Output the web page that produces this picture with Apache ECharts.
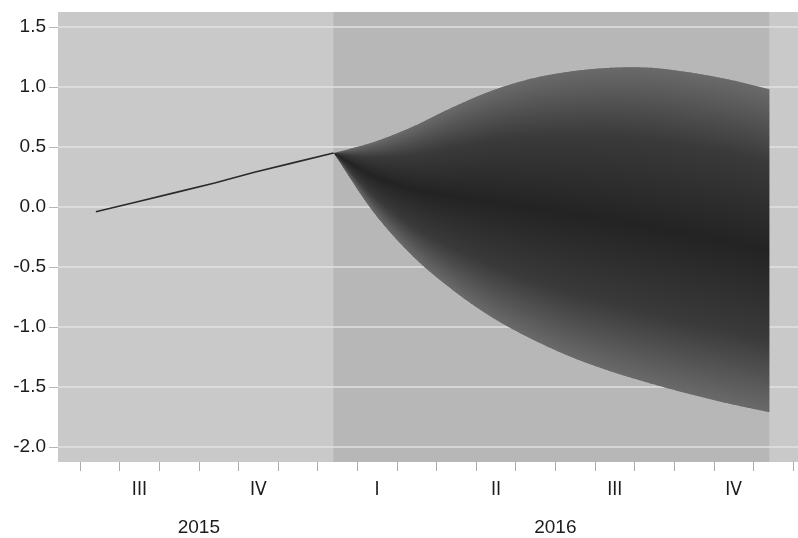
<!DOCTYPE html>
<html>
<head>
<meta charset="utf-8">
<script src="https://cdn.jsdelivr.net/npm/echarts@6/dist/echarts.min.js"></script>
<style>
  html, body { margin: 0; padding: 0; background: #ffffff; }
  #chart { width: 798px; height: 538px; }
</style>
</head>
<body>
<div id="chart"></div>
<script>
// Monthly observations, July 2015 - December 2016
const months = [
  '2015-07', '2015-08', '2015-09', '2015-10', '2015-11', '2015-12',
  '2016-01', '2016-02', '2016-03', '2016-04', '2016-05', '2016-06',
  '2016-07', '2016-08', '2016-09', '2016-10', '2016-11', '2016-12'
];

// Actual values up to the forecast origin (Jul 2015 - Jan 2016)
const actual = [-0.04, 0.04, 0.12, 0.20, 0.29, 0.37, 0.45];

// Forecast fan, Jan 2016 - Dec 2016: outer band and its centre
const fanUpper  = [0.45, 0.54, 0.67, 0.83, 0.97, 1.07, 1.13, 1.16, 1.16, 1.12, 1.06, 0.98];
const fanCentre = [0.45, 0.26, 0.15, 0.09, 0.04, -0.01, -0.06, -0.11, -0.17, -0.23, -0.29, -0.37];
const fanLower  = [0.45, -0.04, -0.41, -0.69, -0.92, -1.10, -1.25, -1.37, -1.47, -1.56, -1.64, -1.71];

// Axis text
const yTicks = [-2.0, -1.5, -1.0, -0.5, 0.0, 0.5, 1.0, 1.5];
const quarterNames = ['I', 'II', 'III', 'IV'];

// Each month occupies one slot on the x axis; observations sit 40% into the slot.
const OBS_POS = 0.4;
const fanStart = months.indexOf('2016-01');
const fanEnd = fanStart + fanUpper.length - 1;

// Quarter labels go under the middle month of each quarter
const quarterLabel = {};
months.forEach((m, i) => {
  const mo = +m.slice(5, 7);
  if (mo % 3 === 2) quarterLabel[i + 0.5] = quarterNames[Math.floor((mo - 1) / 3)];
});
// Year labels centred under the months of each year
const yearLabel = {};
const years = [...new Set(months.map(m => m.slice(0, 4)))];
years.forEach(y => {
  const idx = months.map((m, i) => m.startsWith(y) ? i : -1).filter(i => i >= 0);
  yearLabel[(idx[0] + idx[idx.length - 1] + 1) / 2] = y;
});
const monthBounds = months.map((m, i) => i).concat([months.length]);

const FAN_EDGE = '#6a6a6a';
const FAN_MID = '#3a3a3a';
const FAN_CORE = '#232323';

function renderFanSegment(params, api) {
  const k = params.dataIndex;
  const n = fanUpper.length;
  if (k >= n - 1) return null;
  const px = j => api.coord([fanStart + j + OBS_POS, 0])[0];
  const py = v => api.coord([0, v])[1];
  const clampIdx = j => Math.max(0, Math.min(n - 1, j));
  const curve = (arr, t) => {
    const y = j => py(arr[clampIdx(j)]);
    const y0 = y(k), y1 = y(k + 1);
    const m0 = k === 0 ? (y1 - y0) : (y(k + 1) - y(k - 1)) / 2;
    const m1 = k + 1 === n - 1 ? (y1 - y0) : (y(k + 2) - y(k)) / 2;
    const t2 = t * t, t3 = t2 * t;
    return (2 * t3 - 3 * t2 + 1) * y0 + (t3 - 2 * t2 + t) * m0 +
           (-2 * t3 + 3 * t2) * y1 + (t3 - t2) * m1;
  };
  const x0 = px(k), x1 = px(k + 1);
  const lastSeg = k === n - 2;
  const children = [];
  for (let x = Math.floor(x0); x < x1; x += 1) {
    const xs = Math.max(x, x0);
    const t = Math.min(1, Math.max(0, (xs + 0.5 - x0) / (x1 - x0)));
    const yU = curve(fanUpper, t);
    const yM = curve(fanCentre, t);
    const yL = curve(fanLower, t);
    const h = yL - yU;
    if (h < 0.3) continue;
    const xe = lastSeg ? Math.min(x + 1.6, x1) : x + 1.6;
    const f = Math.min(0.97, Math.max(0.03, (yM - yU) / h));
    children.push({
      type: 'rect',
      shape: { x: xs, y: yU, width: xe - xs, height: h },
      style: {
        fill: new echarts.graphic.LinearGradient(0, 0, 0, 1, [
          { offset: 0, color: FAN_EDGE },
          { offset: f * 0.45, color: FAN_MID },
          { offset: f, color: FAN_CORE },
          { offset: f + (1 - f) * 0.55, color: FAN_MID },
          { offset: 1, color: FAN_EDGE }
        ])
      }
    });
  }
  return { type: 'group', children: children };
}

const chart = echarts.init(document.getElementById('chart'));

const axisFont = "'Liberation Sans', Arial, sans-serif";
const narrowFont = "'Liberation Sans Narrow', 'DejaVu Sans Condensed', 'Liberation Sans', sans-serif";

chart.setOption({
  animation: false,
  backgroundColor: '#ffffff',
  graphic: [{
    type: 'rect',
    left: 58, top: 12,
    shape: { width: 740, height: 450 },
    style: { fill: '#c9c9c9' },
    z: -10,
    silent: true
  }],
  grid: [
    { left: 58, right: 0, top: 27, bottom: 91, outerBoundsMode: 'none', containLabel: false },
    { left: 80, right: 5, top: 27, bottom: 91, outerBoundsMode: 'none', containLabel: false }
  ],
  xAxis: [
    { gridIndex: 0, type: 'value', min: 0, max: 1, show: false },
    {
      gridIndex: 1, type: 'value', position: 'bottom', min: 0, max: months.length, offset: 15,
      axisLine: { show: false, onZero: false },
      splitLine: { show: false },
      axisTick: { show: true, customValues: monthBounds, length: 9,
        lineStyle: { color: '#ababab', width: 1 } },
      axisLabel: {
        customValues: Object.keys(quarterLabel).map(Number),
        formatter: v => quarterLabel[v] || '',
        margin: 19, fontSize: 19, color: '#1c1c1c', fontFamily: narrowFont
      }
    },
    {
      gridIndex: 1, type: 'value', position: 'bottom', min: 0, max: months.length, offset: 15,
      axisLine: { show: false, onZero: false },
      splitLine: { show: false },
      axisTick: { show: false },
      axisLabel: {
        customValues: Object.keys(yearLabel).map(Number),
        formatter: v => yearLabel[v] || '',
        margin: 56, fontSize: 19, color: '#1c1c1c', fontFamily: axisFont
      }
    }
  ],
  yAxis: [
    {
      gridIndex: 0, type: 'value', min: yTicks[0], max: yTicks[yTicks.length - 1], interval: 0.5,
      axisLine: { show: false },
      axisTick: { show: true, length: 9, lineStyle: { color: '#b4b4b4', width: 1 } },
      axisLabel: {
        formatter: v => v.toFixed(1),
        margin: 12, fontSize: 19, color: '#1c1c1c', fontFamily: axisFont
      },
      splitLine: { show: true, lineStyle: { color: '#e0e0e0', width: 1.5 } }
    },
    {
      gridIndex: 1, type: 'value', min: yTicks[0], max: yTicks[yTicks.length - 1],
      show: false
    }
  ],
  series: [
    {
      // forecast period backdrop, full plot height
      type: 'custom',
      xAxisIndex: 1, yAxisIndex: 1,
      z: -1,
      silent: true,
      clip: false,
      data: [[fanStart + OBS_POS, fanEnd + OBS_POS]],
      renderItem: (params, api) => {
        const a = api.coord([api.value(0), 0]);
        const b = api.coord([api.value(1), 0]);
        const cs = params.coordSys;
        return {
          type: 'rect',
          shape: { x: a[0], y: cs.y - 15, width: b[0] - a[0], height: cs.height + 30 },
          style: { fill: '#b7b7b7' }
        };
      }
    },
    {
      type: 'custom',
      xAxisIndex: 1, yAxisIndex: 1,
      z: 3,
      silent: true,
      data: fanUpper.map((u, j) => [fanStart + j + OBS_POS, fanLower[j], fanCentre[j], u]),
      renderItem: renderFanSegment
    },
    {
      type: 'line',
      xAxisIndex: 1, yAxisIndex: 1,
      z: 5,
      symbol: 'none',
      silent: true,
      lineStyle: { color: '#2a2a2a', width: 1.6 },
      data: actual.map((v, i) => [i + OBS_POS, v])
    }
  ]
});
</script>
</body>
</html>
